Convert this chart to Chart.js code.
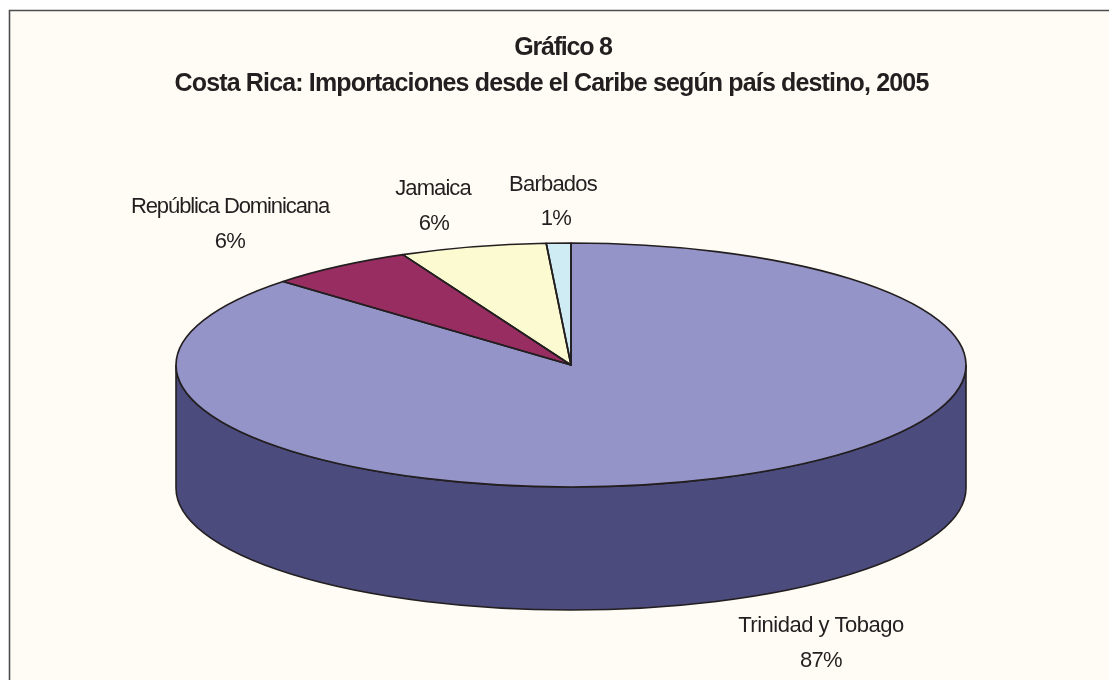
<!DOCTYPE html>
<html>
<head>
<meta charset="utf-8">
<style>html,body{margin:0;padding:0;background:#fff}canvas{display:block}</style>
<script src="https://cdn.jsdelivr.net/npm/chart.js@4"></script>
</head>
<body>
<canvas id="c" width="1109" height="680"></canvas>
<script>
const categories = ['Trinidad y Tobago', 'República Dominicana', 'Jamaica', 'Barbados'];
const shares = [87, 6, 6, 1];
const titleLines = ['Gráfico 8', 'Costa Rica: Importaciones desde el Caribe según país destino, 2005'];
const topColors = ['#9494C8', '#982D62', '#FBFAD0', '#CFEBF4'];
const sideColors = ['#4B4B7D', '#5C1B3B', '#979672', '#7C8D92'];

const geom = { cx: 571, cy: 365, rx: 395, ry: 122, depth: 123 };
const frame = { x: 9.5, y: 10.5, color: '#4d4d4d', fill: '#FFFCF5' };
const titleSpots = [[563, 48], [551.5, 84]];
const titleTracking = [-1.2, -0.85];
const labelSpots = [[821, 626], [230, 207], [433, 189], [553, 185]];
const percentSpots = [[821, 661], [230, 242], [434, 224], [556, 219]];
const labelTracking = [-0.5, -1.1, -0.9, -0.8];
const ink = '#231F20';

const pie3d = {
  id: 'pie3d',
  beforeDraw(chart) {
    const ctx = chart.ctx;
    ctx.save();
    ctx.fillStyle = frame.fill;
    ctx.fillRect(frame.x, frame.y, chart.width, chart.height);
    ctx.strokeStyle = frame.color;
    ctx.lineWidth = 1.6;
    ctx.beginPath();
    ctx.moveTo(frame.x, chart.height);
    ctx.lineTo(frame.x, frame.y);
    ctx.lineTo(chart.width, frame.y);
    ctx.stroke();
    ctx.restore();
  },
  beforeDatasetsDraw(chart) {
    const ctx = chart.ctx, { cx, cy, rx, ry, depth } = geom;
    ctx.save();
    ctx.lineWidth = 1.6;
    ctx.strokeStyle = ink;
    chart.getDatasetMeta(0).data.forEach((arc, i) => {
      const a = Math.max(arc.startAngle, 0), b = Math.min(arc.endAngle, Math.PI);
      if (b <= a) return;
      ctx.beginPath();
      ctx.ellipse(cx, cy, rx, ry, 0, a, b);
      ctx.ellipse(cx, cy + depth, rx, ry, 0, b, a, true);
      ctx.closePath();
      ctx.fillStyle = sideColors[i];
      ctx.fill();
      ctx.stroke();
    });
    ctx.restore();
  },
  beforeDatasetDraw(chart) {
    const ctx = chart.ctx, arc = chart.getDatasetMeta(0).data[0];
    const r = arc.outerRadius;
    ctx.save();
    ctx.translate(geom.cx, geom.cy);
    ctx.scale(geom.rx / r, geom.ry / r);
    ctx.translate(-arc.x, -arc.y);
  },
  afterDatasetDraw(chart) {
    chart.ctx.restore();
  },
  afterDatasetsDraw(chart) {
    const ctx = chart.ctx, { cx, cy, rx, ry } = geom;
    ctx.save();
    ctx.lineWidth = 1.7;
    ctx.strokeStyle = ink;
    ctx.lineJoin = 'round';
    chart.getDatasetMeta(0).data.forEach(arc => {
      ctx.beginPath();
      ctx.moveTo(cx, cy);
      ctx.ellipse(cx, cy, rx, ry, 0, arc.startAngle, arc.endAngle);
      ctx.closePath();
      ctx.stroke();
    });
    const total = shares.reduce((s, v) => s + v, 0);
    ctx.fillStyle = ink;
    ctx.textAlign = 'center';
    ctx.textBaseline = 'middle';
    ctx.font = 'bold 25px "Liberation Sans", Arial, sans-serif';
    titleLines.forEach((line, i) => {
      ctx.letterSpacing = titleTracking[i] + 'px';
      ctx.fillText(line, titleSpots[i][0], titleSpots[i][1]);
    });
    ctx.font = '22px "Liberation Sans", Arial, sans-serif';
    categories.forEach((name, i) => {
      ctx.letterSpacing = labelTracking[i] + 'px';
      ctx.fillText(name, labelSpots[i][0], labelSpots[i][1]);
      ctx.letterSpacing = '-0.7px';
      ctx.fillText(Math.round(shares[i] / total * 100) + '%', percentSpots[i][0], percentSpots[i][1]);
    });
    ctx.restore();
  }
};

new Chart(document.getElementById('c'), {
  type: 'pie',
  data: {
    labels: categories,
    datasets: [{ data: shares, backgroundColor: topColors, borderWidth: 0 }]
  },
  options: {
    responsive: false,
    animation: false,
    events: [],
    layout: { padding: 20 },
    plugins: {
      legend: { display: false },
      tooltip: { enabled: false },
      title: { display: false }
    }
  },
  plugins: [pie3d]
});
</script>
</body>
</html>
